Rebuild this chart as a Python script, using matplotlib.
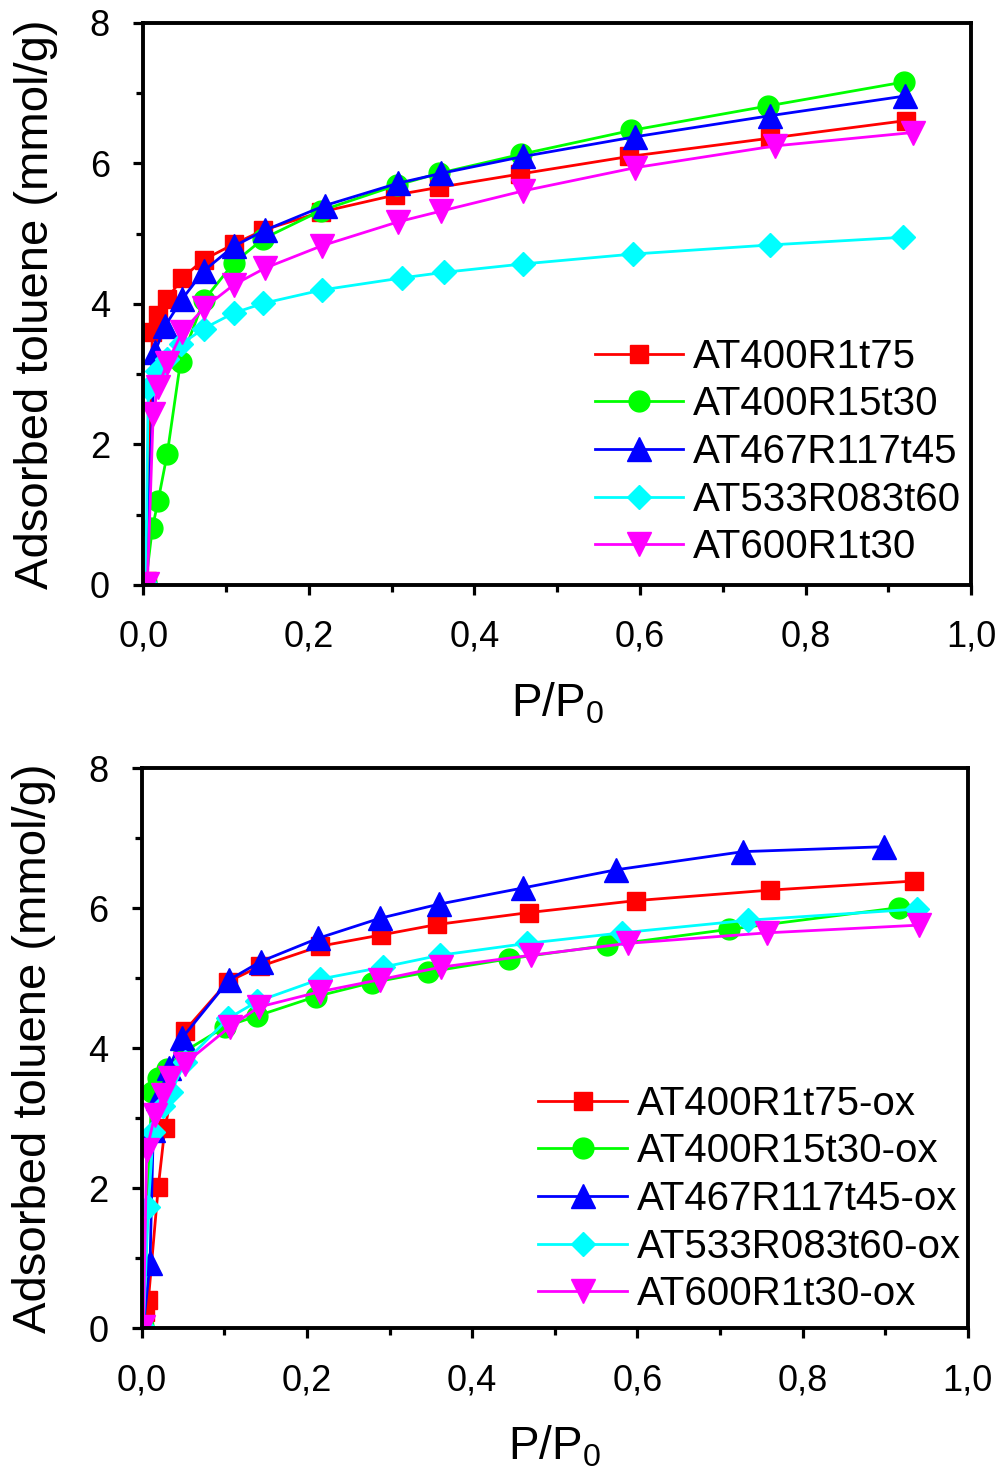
import numpy as np
import matplotlib
matplotlib.use("Agg")
import matplotlib.pyplot as plt
from matplotlib.ticker import MultipleLocator, FuncFormatter

plt.rcParams['font.family'] = ['Liberation Sans', 'DejaVu Sans']
plt.rcParams['mathtext.default'] = 'regular'

# --- top panel: fresh samples ---
labels_top = ["AT400R1t75", "AT400R15t30", "AT467R117t45", "AT533R083t60", "AT600R1t30"]

red_x = [0.004, 0.011, 0.018, 0.029, 0.047, 0.073, 0.109, 0.145, 0.215, 0.304, 0.357, 0.455, 0.587, 0.757, 0.921]
red_y = [0.05, 3.60, 3.84, 4.07, 4.37, 4.63, 4.85, 5.05, 5.31, 5.55, 5.66, 5.85, 6.10, 6.36, 6.61]

green_x = [0.003, 0.011, 0.018, 0.029, 0.045, 0.073, 0.109, 0.145, 0.215, 0.306, 0.357, 0.456, 0.589, 0.755, 0.919]
green_y = [0.03, 0.81, 1.20, 1.87, 3.18, 4.05, 4.58, 4.93, 5.33, 5.69, 5.86, 6.13, 6.47, 6.82, 7.16]

blue_x = [0.003, 0.014, 0.026, 0.047, 0.073, 0.109, 0.147, 0.219, 0.308, 0.360, 0.459, 0.594, 0.757, 0.920]
blue_y = [0.05, 3.31, 3.68, 4.07, 4.47, 4.82, 5.05, 5.40, 5.72, 5.86, 6.10, 6.38, 6.68, 6.96]

cyan_x = [0.003, 0.006, 0.017, 0.029, 0.046, 0.073, 0.109, 0.145, 0.216, 0.312, 0.363, 0.459, 0.591, 0.757, 0.918]
cyan_y = [0.02, 2.80, 3.05, 3.22, 3.43, 3.65, 3.87, 4.01, 4.20, 4.37, 4.45, 4.57, 4.71, 4.84, 4.95]

magenta_x = [0.005, 0.012, 0.018, 0.029, 0.047, 0.073, 0.109, 0.147, 0.216, 0.308, 0.359, 0.459, 0.594, 0.763, 0.929]
magenta_y = [0.02, 2.43, 2.82, 3.16, 3.60, 3.94, 4.27, 4.51, 4.83, 5.17, 5.32, 5.61, 5.94, 6.25, 6.44]

# --- bottom panel: oxidised samples ---
labels_bot = ["AT400R1t75-ox", "AT400R15t30-ox", "AT467R117t45-ox", "AT533R083t60-ox", "AT600R1t30-ox"]

red_ox_x = [0.002, 0.004, 0.008, 0.020, 0.028, 0.052, 0.104, 0.143, 0.216, 0.290, 0.358, 0.469, 0.598, 0.760, 0.935]
red_ox_y = [0.05, 0.24, 0.40, 2.02, 2.86, 4.25, 4.95, 5.17, 5.46, 5.62, 5.77, 5.94, 6.11, 6.26, 6.39]

green_ox_x = [0.002, 0.012, 0.020, 0.030, 0.051, 0.101, 0.139, 0.211, 0.279, 0.347, 0.445, 0.563, 0.711, 0.917]
green_ox_y = [0.03, 3.38, 3.58, 3.71, 3.95, 4.31, 4.46, 4.74, 4.94, 5.09, 5.28, 5.47, 5.70, 6.01]

blue_ox_x = [0.002, 0.010, 0.014, 0.020, 0.033, 0.049, 0.106, 0.144, 0.213, 0.289, 0.360, 0.461, 0.574, 0.728, 0.898]
blue_ox_y = [0.03, 0.93, 2.83, 3.29, 3.72, 4.15, 4.98, 5.24, 5.57, 5.86, 6.06, 6.29, 6.55, 6.81, 6.88]

cyan_ox_x = [0.002, 0.008, 0.014, 0.026, 0.036, 0.052, 0.105, 0.140, 0.216, 0.292, 0.361, 0.467, 0.581, 0.734, 0.939]
cyan_ox_y = [0.02, 1.74, 2.81, 3.17, 3.38, 3.80, 4.43, 4.67, 4.99, 5.16, 5.33, 5.50, 5.65, 5.83, 5.99]

magenta_ox_x = [0.002, 0.006, 0.016, 0.026, 0.034, 0.052, 0.107, 0.142, 0.216, 0.288, 0.362, 0.471, 0.589, 0.757, 0.941]
magenta_ox_y = [0.02, 2.55, 3.05, 3.33, 3.57, 3.78, 4.31, 4.59, 4.81, 4.98, 5.16, 5.33, 5.50, 5.65, 5.76]

colors = ['#FF0000', '#00FF00', '#0000FF', '#00FFFF', '#FF00FF']
markers = ['s', 'o', '^', 'D', 'v']
msizes = [13.5, 15, 17.5, 12.5, 17.5]


def style_axes(ax):
    ax.set_xlim(0, 1.0)
    ax.set_ylim(0, 8)
    ax.xaxis.set_major_locator(MultipleLocator(0.2))
    ax.xaxis.set_minor_locator(MultipleLocator(0.1))
    ax.yaxis.set_major_locator(MultipleLocator(2))
    ax.yaxis.set_minor_locator(MultipleLocator(1))
    ax.xaxis.set_major_formatter(FuncFormatter(lambda v, p: ("%.1f" % v).replace('.', ',')))
    ax.yaxis.set_major_formatter(FuncFormatter(lambda v, p: "%d" % v))
    for s in ax.spines.values():
        s.set_linewidth(2.8)
    ax.tick_params(which='both', direction='out', width=2.3, labelsize=26)
    ax.tick_params(which='major', length=7)
    ax.tick_params(which='minor', length=5)
    ax.tick_params(axis='x', which='major', pad=18)
    ax.tick_params(axis='y', which='major', pad=17)
    ax.set_xlabel("P/P$_0$", fontsize=33, labelpad=19)
    ax.set_ylabel("Adsorbed toluene (mmol/g)", fontsize=34, labelpad=23)


fig = plt.figure(figsize=(10.06, 14.81), dpi=100)

ax1 = fig.add_axes([0.1424, 0.605, 0.8231, 0.3795])
top_series = [(red_x, red_y), (green_x, green_y), (blue_x, blue_y), (cyan_x, cyan_y), (magenta_x, magenta_y)]
for (xs, ys), c, m, ms, lab in zip(top_series, colors, markers, msizes, labels_top):
    ax1.plot(xs, ys, color=c, lw=2, marker=m, ms=ms, mec=c, label=lab)
style_axes(ax1)
ax1.legend(loc='upper left', bbox_to_anchor=(0.545, 0.44), frameon=False, fontsize=29,
           handlelength=2.2, handletextpad=0.25, labelspacing=0.24, borderpad=0, borderaxespad=0)

ax2 = fig.add_axes([0.1409, 0.1031, 0.8211, 0.3781])
bot_series = [(red_ox_x, red_ox_y), (green_ox_x, green_ox_y), (blue_ox_x, blue_ox_y),
              (cyan_ox_x, cyan_ox_y), (magenta_ox_x, magenta_ox_y)]
for (xs, ys), c, m, ms, lab in zip(bot_series, colors, markers, msizes, labels_bot):
    ax2.plot(xs, ys, color=c, lw=2, marker=m, ms=ms, mec=c, label=lab)
style_axes(ax2)
ax2.legend(loc='upper left', bbox_to_anchor=(0.48, 0.435), frameon=False, fontsize=29,
           handlelength=2.2, handletextpad=0.25, labelspacing=0.24, borderpad=0, borderaxespad=0)

fig.savefig("out.png", dpi=100)
